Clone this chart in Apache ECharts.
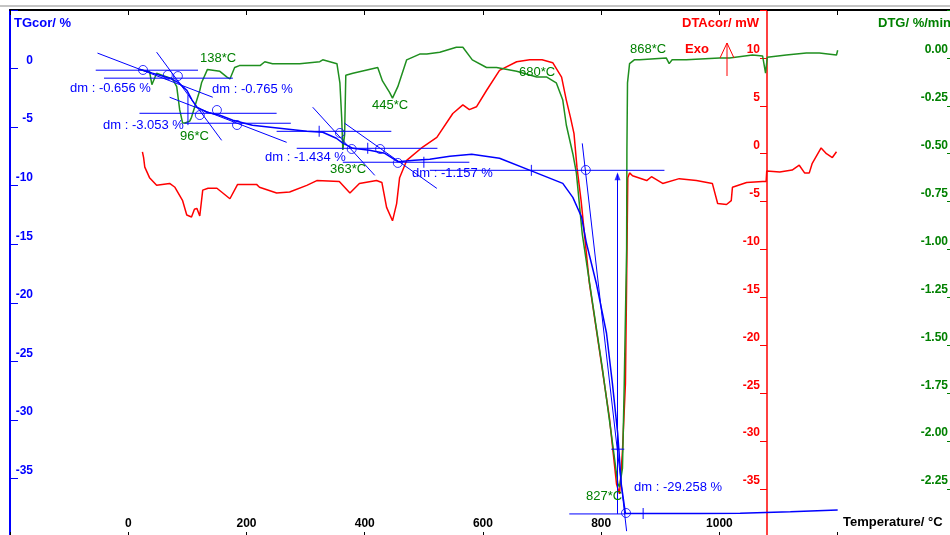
<!DOCTYPE html>
<html>
<head>
<meta charset="utf-8">
<script src="https://cdn.jsdelivr.net/npm/echarts@6/dist/echarts.min.js"></script>
<style>
  html, body { margin: 0; padding: 0; background: #fff; }
  #main { width: 950px; height: 535px; }
</style>
</head>
<body>
<div id="main"></div>
<script>
// TG curve: [temperature °C, mass change %]
const tgCurve = [
  [19, -0.05], [41, -0.39], [70, -0.82], [85, -1.2], [99, -1.85], [108, -2.7],
  [116, -3.3], [133, -3.73], [155, -3.99], [177, -4.41], [210, -4.84], [256, -5.1],
  [302, -5.36], [329, -5.44], [352, -5.95], [363, -6.37], [380, -6.81], [408, -6.98],
  [434, -7.24], [456, -7.95], [484, -7.84], [510, -7.75], [544, -7.49], [581, -7.32],
  [628, -7.66], [684, -8.78], [735, -9.8], [752, -11.0], [767, -12.7], [775, -14.9],
  [792, -18.4], [809, -22.6], [819, -26.9], [828, -31.2], [834, -35.5], [841, -38.0],
  [966, -38.0], [1035, -37.98], [1120, -37.85], [1200, -37.7]
];

// DTA curve: [temperature °C, mW]
const dtaCurve = [
  [24, 0.2], [26, -0.4], [28, -1.4], [36, -2.5], [48, -3.3], [70, -3.1], [79, -3.5],
  [92, -4.9], [99, -6.4], [107, -6.6], [112, -5.8], [116, -5.7], [121, -6.5], [126, -3.8],
  [135, -3.6], [150, -3.6], [172, -4.7], [185, -3.2], [217, -3.2], [222, -3.5],
  [251, -4.1], [273, -4.0], [302, -3.3], [319, -2.8], [357, -2.9], [375, -4.1],
  [391, -3.1], [420, -2.8], [429, -3.0], [437, -5.6], [447, -7.0], [454, -5.2],
  [459, -2.5], [471, -0.7], [498, 0.7], [522, 1.7], [549, 4.2], [566, 5.1], [577, 4.6],
  [589, 4.9], [606, 6.6], [628, 8.7], [657, 9.6], [679, 9.8], [700, 9.8], [718, 9.5],
  [733, 8.0], [741, 5.6], [748, 3.8], [754, 2.1], [759, -1.4], [766, -4.9],
  [780, -13.5], [797, -20.5], [814, -27.6], [826, -34.5], [831, -35.5], [836, -31.0],
  [841, -24.0], [843, -13.5], [845, -2.5], [848, -2.0], [853, -2.3], [877, -2.8],
  [885, -2.4], [904, -3.1], [932, -2.6], [961, -2.8], [988, -3.1], [997, -5.2],
  [1012, -5.3], [1020, -4.9], [1022, -3.5], [1046, -3.0], [1073, -2.9], [1079, -2.9],
  [1080, -1.8], [1102, -1.9], [1123, -1.7], [1135, -1.2], [1144, -2.0], [1152, -2.0],
  [1157, -1.0], [1172, 0.6], [1181, 0.0], [1191, -0.4], [1198, 0.2]
];

// DTG curve: [temperature °C, %/min]
const dtgCurve = [
  [19, -0.06], [31, -0.07], [36, -0.07], [40, -0.14], [48, -0.08], [57, -0.09],
  [75, -0.11], [82, -0.15], [87, -0.27], [92, -0.34], [96, -0.34], [104, -0.33],
  [107, -0.31], [112, -0.26], [116, -0.22], [121, -0.17], [124, -0.13], [134, -0.06],
  [155, -0.07], [167, -0.1], [172, -0.11], [175, -0.1], [180, -0.05], [188, -0.04],
  [205, -0.04], [223, -0.04], [231, -0.02], [234, -0.01], [244, -0.03], [256, -0.03],
  [290, -0.03], [324, -0.02], [329, -0.01], [353, -0.03], [358, -0.13], [361, -0.31],
  [363, -0.48], [366, -0.4], [368, -0.09], [380, -0.08], [422, -0.05], [430, -0.12],
  [442, -0.18], [447, -0.21], [456, -0.15], [471, -0.01], [493, 0.02], [505, 0.02],
  [527, 0.03], [555, 0.056], [566, 0.056], [582, -0.01], [606, -0.05], [623, -0.05],
  [657, -0.07], [691, -0.1], [708, -0.1], [724, -0.13], [735, -0.22], [741, -0.35],
  [752, -0.5], [758, -0.6], [768, -0.92], [785, -1.27], [802, -1.62], [817, -1.96],
  [828, -2.22], [831, -2.24], [836, -2.14], [839, -1.7], [843, -1.0], [843.5, -0.48],
  [844.5, -0.13], [848, -0.03], [856, -0.01], [865, -0.01], [910, 0.0], [915, -0.03],
  [920, -0.01], [944, -0.01], [1000, 0.0], [1017, 0.0], [1056, 0.015], [1073, 0.01],
  [1078, -0.08], [1081, 0.004], [1113, 0.015], [1147, 0.025], [1169, 0.025],
  [1198, 0.015], [1200, 0.04]
];

// evaluation lines drawn on the TG scale
const tgTangents = [
  [[-55, -0.14], [118, -0.14]],
  [[-41, -0.82], [177, -0.82]],
  [[-52, 1.32], [143, -2.45]],
  [[48, 1.4], [158, -6.13]],
  [[19, -3.82], [251, -3.82]],
  [[95, -4.67], [275, -4.67]],
  [[70, -2.45], [268, -6.3]],
  [[251, -5.36], [445, -5.36]],
  [[285, -6.81], [523, -6.81]],
  [[363, -8.0], [577, -8.0]],
  [[312, -3.3], [417, -9.12]],
  [[366, -4.67], [522, -10.23]],
  [[510, -8.69], [907, -8.69]],
  [[768, -6.39], [843, -39.5]],
  [[746, -38.03], [841, -38.03]],
  [[827.6, -38.03], [827.6, -9.0]],
  [[817, -32.5], [839, -32.5]],
  [[101, -2.27], [101, -4.83]]
];
const tgCircles = [
  [25, -0.12], [67, -0.55], [84, -0.64], [121, -3.97], [150, -3.54], [184, -4.82],
  [358, -5.5], [378, -6.87], [426, -6.87], [456, -8.06], [774, -8.66], [842, -37.95]
];
const tgTicks = [
  [323, -5.36], [405, -6.81], [500, -8.0], [682, -8.69], [871, -38.0]
];

const FONT = '"Liberation Sans", Arial, sans-serif';
const BLUE = '#0000ff';
const RED = '#ff0000';
const GREEN = '#008000';

const chart = echarts.init(document.getElementById('main'));

const tangentSeries = tgTangents.map((seg) => ({
  type: 'line',
  xAxisIndex: 0,
  yAxisIndex: 0,
  data: seg,
  symbol: 'none',
  silent: true,
  lineStyle: { color: BLUE, width: 1 },
  z: 3
}));

function txt(text, left, top, color, size, bold) {
  return {
    type: 'text',
    left: left,
    top: top,
    style: {
      text: text,
      fill: color,
      font: (bold ? 'bold ' : '') + size + 'px ' + FONT
    },
    z: 10
  };
}

const option = {
  animation: false,
  backgroundColor: '#fff',
  grid: { left: 10, right: 0, top: 10, bottom: -2, containLabel: false, outerBoundsMode: 'none' },
  xAxis: [
    {
      type: 'value', min: -200, max: 1390, interval: 200, position: 'bottom',
      axisLine: { show: false, onZero: false },
      axisTick: { inside: true, length: 5, lineStyle: { color: '#000' } },
      axisLabel: {
        inside: true, margin: 7, color: '#000', fontWeight: 'bold', fontSize: 12,
        fontFamily: FONT,
        formatter: (v) => (v < 0 || v > 1100 ? '' : String(v))
      },
      splitLine: { show: false }
    },
    {
      type: 'value', min: -200, max: 1390, interval: 200, position: 'top',
      axisLine: { show: true, onZero: false, lineStyle: { color: '#000', width: 2 } },
      axisTick: { inside: true, length: 5, lineStyle: { color: '#000' } },
      axisLabel: { show: false },
      splitLine: { show: false }
    }
  ],
  yAxis: [
    {
      type: 'value', min: -40, max: 5, interval: 5, position: 'left',
      axisLine: { show: true, onZero: false, lineStyle: { color: BLUE, width: 2 } },
      axisTick: { inside: true, length: 8, lineStyle: { color: BLUE } },
      axisLabel: {
        inside: true, align: 'right', margin: 23, verticalAlign: 'bottom', lineHeight: 16,
        color: BLUE, fontWeight: 'bold', fontSize: 12, fontFamily: FONT,
        formatter: (v) => (v > 0 || v < -37 ? '' : String(v))
      },
      splitLine: { show: false }
    },
    {
      type: 'value', min: -40, max: 15, interval: 5, position: 'right', offset: -183,
      axisLine: { show: true, onZero: false, lineStyle: { color: RED, width: 1.5 } },
      axisTick: { inside: true, length: 7, lineStyle: { color: RED } },
      axisLabel: {
        inside: true, margin: 7, verticalAlign: 'bottom', lineHeight: 16,
        color: RED, fontWeight: 'bold', fontSize: 12, fontFamily: FONT,
        formatter: (v) => (v > 12 || v < -37 ? '' : String(v))
      },
      splitLine: { show: false }
    },
    {
      type: 'value', min: -2.5, max: 0.25, interval: 0.25, position: 'right', offset: 0,
      axisLine: { show: false, onZero: false },
      axisTick: { show: true, inside: true, length: 3, lineStyle: { color: GREEN } },
      axisLabel: {
        inside: true, margin: 2, verticalAlign: 'bottom', lineHeight: 16,
        color: GREEN, fontWeight: 'bold', fontSize: 12, fontFamily: FONT,
        formatter: (v) => (v > 0.1 || v < -2.4 ? '' : v.toFixed(2))
      },
      splitLine: { show: false }
    }
  ],
  series: [
    {
      name: 'DTA', type: 'line', xAxisIndex: 0, yAxisIndex: 1, data: dtaCurve,
      symbol: 'none', lineStyle: { color: RED, width: 1.5 }, z: 2
    },
    {
      name: 'DTG', type: 'line', xAxisIndex: 0, yAxisIndex: 2, data: dtgCurve,
      symbol: 'none', lineStyle: { color: '#1f8f1f', width: 1.5 }, z: 2
    },
    {
      name: 'TG', type: 'line', xAxisIndex: 0, yAxisIndex: 0, data: tgCurve,
      symbol: 'none', lineStyle: { color: BLUE, width: 1.5 }, z: 4
    },
    ...tangentSeries,
    {
      type: 'scatter', xAxisIndex: 0, yAxisIndex: 0, data: tgCircles,
      symbol: 'circle', symbolSize: 9, silent: true,
      itemStyle: { color: 'transparent', borderColor: BLUE, borderWidth: 1 }, z: 5
    },
    {
      type: 'scatter', xAxisIndex: 0, yAxisIndex: 0, data: tgTicks,
      symbol: 'rect', symbolSize: [1.2, 11], silent: true,
      itemStyle: { color: BLUE }, z: 5
    },
    {
      type: 'scatter', xAxisIndex: 0, yAxisIndex: 0, data: [[827.6, -9.2]],
      symbol: 'triangle', symbolSize: [6, 8], silent: true,
      itemStyle: { color: BLUE }, z: 5
    }
  ],
  graphic: [
    { type: 'rect', shape: { x: 0, y: 5, width: 950, height: 2 }, style: { fill: '#c4c4c4' } },
    txt('TGcor/ %', 14, 17, BLUE, 13, true),
    {
      type: 'text', left: 682, top: 17,
      style: { text: 'DTAcor/ mW', fill: RED, font: 'bold 13px ' + FONT }, z: 10
    },
    txt('DTG/ %/min', 878, 17, GREEN, 13, true),
    txt('Temperature/ \u00b0C', 843, 516, '#000', 13, true),
    txt('Exo', 685, 43, RED, 13, true),
    {
      type: 'polyline', shape: { points: [[727, 76], [727, 43]] },
      style: { stroke: RED, lineWidth: 1 }, z: 10
    },
    {
      type: 'polyline', shape: { points: [[720, 58], [727, 43], [734, 58]] },
      style: { stroke: RED, lineWidth: 1, fill: null }, z: 10
    },
    txt('dm : -0.656 %', 70, 82, BLUE, 13, false),
    txt('dm : -0.765 %', 212, 83, BLUE, 13, false),
    txt('dm : -3.053 %', 103, 119, BLUE, 13, false),
    txt('dm : -1.434 %', 265, 151, BLUE, 13, false),
    txt('dm : -1.157 %', 412, 167, BLUE, 13, false),
    txt('dm : -29.258 %', 634, 481, BLUE, 13, false),
    txt('138*C', 200, 52, GREEN, 13, false),
    txt('96*C', 180, 130, GREEN, 13, false),
    txt('363*C', 330, 163, GREEN, 13, false),
    txt('445*C', 372, 99, GREEN, 13, false),
    txt('680*C', 519, 66, GREEN, 13, false),
    txt('868*C', 630, 43, GREEN, 13, false),
    txt('827*C', 586, 490, GREEN, 13, false)
  ]
};

chart.setOption(option);
</script>
</body>
</html>
